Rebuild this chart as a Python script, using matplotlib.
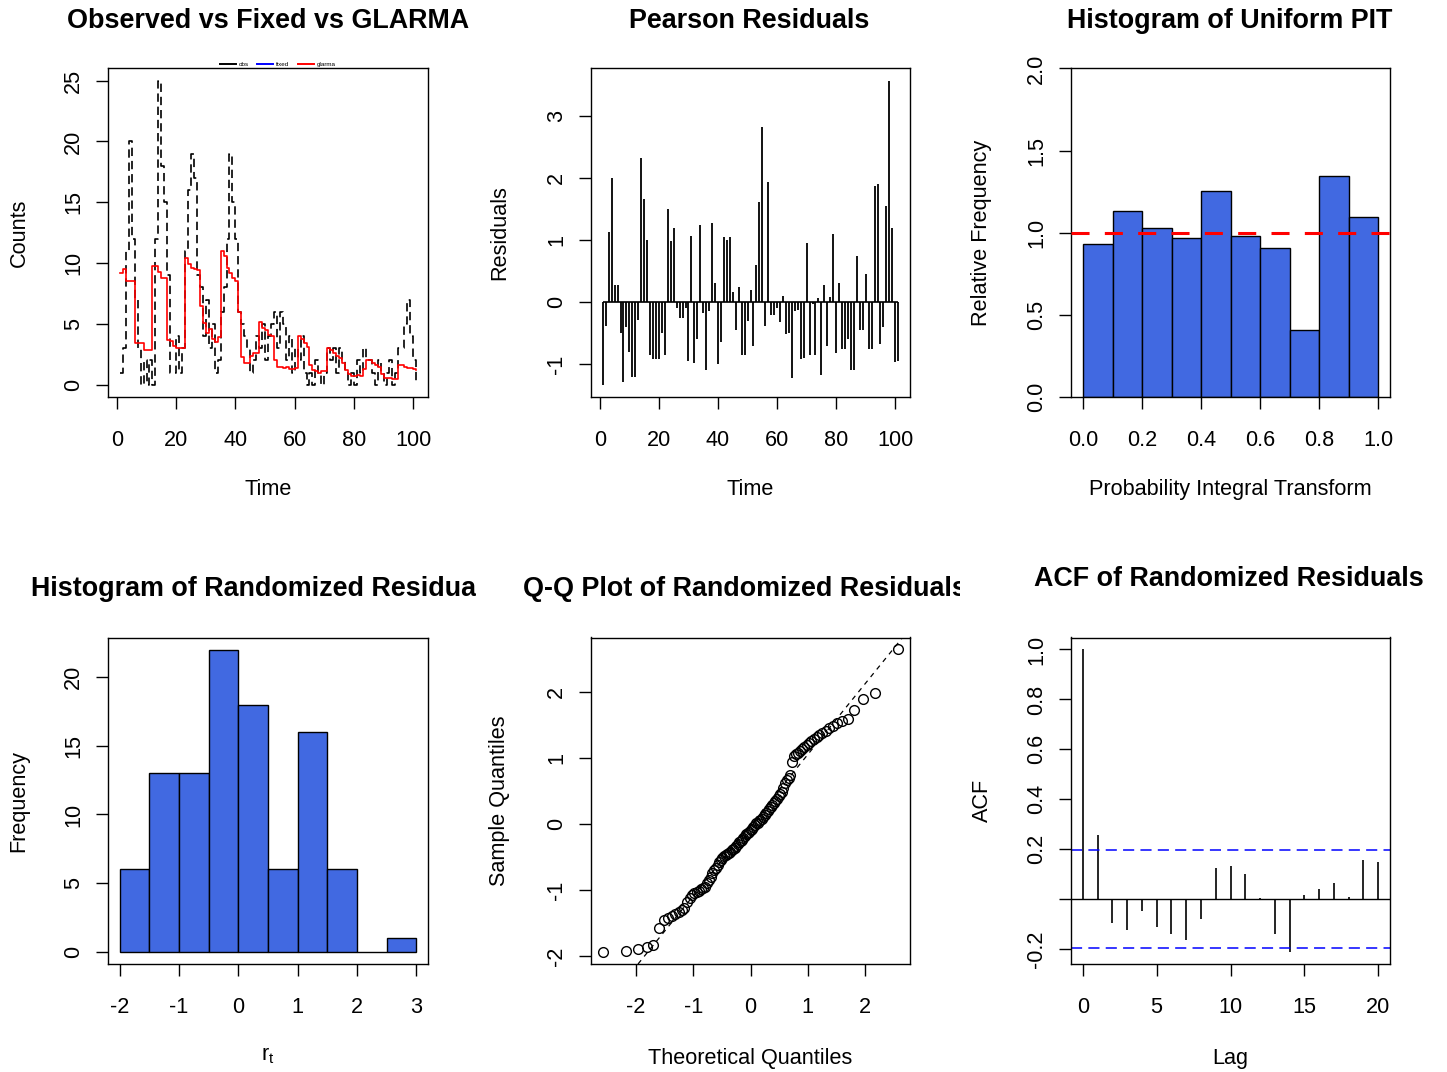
import numpy as np
import matplotlib
matplotlib.use('Agg')
import matplotlib.pyplot as plt
from matplotlib.lines import Line2D
from matplotlib.transforms import Bbox, TransformedBbox
from statistics import NormalDist

# ---------------- data ----------------
observed = [1, 3, 11, 20, 12, 7, 3, 0, 2, 0,
            2, 0, 12, 25, 18, 15, 9, 1, 1, 4,
            1, 3, 11, 16, 19, 17, 9, 8, 4, 7,
            3, 5, 1, 2, 6, 8, 12, 19, 15, 12,
            6, 5, 4, 3, 1, 2, 4, 3, 5, 2,
            4, 5, 6, 3, 6, 5, 2, 4, 1, 3,
            2, 4, 1, 0, 1, 0, 2, 1, 0, 1,
            3, 2, 3, 1, 3, 2, 1, 0, 1, 0,
            2, 1, 3, 2, 2, 1, 0, 2, 1, 0,
            1, 2, 0, 1, 3, 3, 5, 7, 4, 2, 0]

glarma_fit = [9.2, 9.5, 8.5, 8.5, 8.5, 3.4, 3.4, 3.4, 2.9, 2.9,
              2.9, 9.8, 9.8, 9.3, 8.8, 8.8, 3.7, 3.6, 3.2, 3.0,
              3.0, 3.0, 10.4, 9.9, 9.6, 9.5, 9.4, 6.5, 5.1, 4.3,
              4.6, 3.8, 3.5, 3.9, 11.0, 10.6, 9.6, 9.2, 8.8, 8.5,
              6.0, 2.3, 1.8, 1.8, 2.4, 2.6, 2.6, 5.2, 4.7, 4.5,
              4.1, 4.0, 2.0, 1.5, 1.5, 1.4, 1.5, 1.3, 1.3, 1.4,
              4.0, 3.8, 3.4, 3.1, 1.6, 1.2, 1.1, 1.0, 1.1, 1.1,
              3.0, 2.9, 2.6, 2.4, 2.2, 1.8, 1.2, 0.9, 0.7, 0.7,
              0.8, 0.7, 1.3, 2.0, 2.0, 1.8, 1.6, 1.5, 0.9, 0.6,
              0.6, 0.6, 0.5, 0.5, 1.6, 1.6, 1.5, 1.4, 1.4, 1.3, 1.2]

pearson_resid = [-1.33, -0.39, 1.14, 2.0, 0.28, 0.28, -0.5, -1.28, -0.4, -0.8,
                 -1.2, -1.2, -0.28, 2.33, 1.67, 1.0, -0.85, -0.92, -0.92, -0.92,
                 -0.5, -0.85, 1.5, 0.98, 1.2, -0.1, -0.25, -0.25, -0.1, -0.95,
                 1.07, -0.98, -0.6, 1.24, -0.17, -1.1, -0.15, 1.27, 0.31, -1.0,
                 -0.65, 1.05, 1.0, 1.05, 0.17, -0.45, 0.25, -0.85, -0.85, -0.3,
                 0.2, -0.71, 0.6, 1.61, 2.83, -0.38, 1.94, -0.2, -0.2, -0.1,
                 -0.32, 0.1, -0.51, -0.5, -1.23, -0.15, -0.13, -0.92, -0.9, 0.95,
                 -0.85, -0.03, -0.85, 0.07, -1.18, 0.28, -0.7, 0.08, 1.1, -0.82,
                 0.31, -0.75, -0.75, -0.6, -1.1, -1.1, 0.75, -0.45, -0.45, 0.45,
                 -0.75, -0.75, 1.87, 1.9, -0.68, -0.4, 1.55, 3.57, 1.2, -0.97,
                 -0.95]

pit_breaks = [0.0, 0.1, 0.2, 0.3, 0.4, 0.5, 0.6, 0.7, 0.8, 0.9, 1.0]
pit_density = [0.93, 1.13, 1.03, 0.965, 1.254, 0.98, 0.905, 0.41, 1.343, 1.094]

rand_resid = [-1.94, -1.93, -1.89, -1.87, -1.84, -1.58,
              -1.45, -1.42, -1.40, -1.37, -1.33, -1.30, -1.27, -1.18, -1.12, -1.08, -1.05, -1.03, -1.01,
              -0.99, -0.97, -0.95, -0.90, -0.85, -0.80, -0.74, -0.70, -0.66, -0.62, -0.58, -0.55, -0.52,
              -0.49, -0.47, -0.46, -0.44, -0.42, -0.40, -0.38, -0.36, -0.34, -0.31, -0.28, -0.26, -0.24,
              -0.22, -0.19, -0.16, -0.14, -0.12, -0.10, -0.08, -0.05, -0.02,
              0.01, 0.02, 0.04, 0.06, 0.08, 0.11, 0.14, 0.17, 0.20, 0.23, 0.26, 0.29, 0.32, 0.35, 0.38,
              0.42, 0.45, 0.48,
              0.55, 0.62, 0.66, 0.70, 0.74, 0.94,
              1.02, 1.05, 1.08, 1.10, 1.13, 1.16, 1.19, 1.22, 1.25, 1.28, 1.31, 1.35, 1.38, 1.41, 1.45, 1.48,
              1.52, 1.55, 1.58, 1.73, 1.89, 1.98,
              2.64]
hist_breaks = [-2.0, -1.5, -1.0, -0.5, 0.0, 0.5, 1.0, 1.5, 2.0, 2.5, 3.0]

acf_lags = list(range(21))
acf_values = [1.0, 0.255, -0.097, -0.122, -0.046, -0.113, -0.139, -0.163, -0.081, 0.124,
              0.133, 0.10, 0.003, -0.139, -0.212, 0.017, 0.042, 0.066, 0.009, 0.157, 0.149]

# ---------------- style ----------------
plt.rcParams['font.family'] = ['Liberation Sans', 'DejaVu Sans']
plt.rcParams['axes.unicode_minus'] = False
plt.rcParams['lines.scale_dashes'] = False

W, H, DPI = 1447, 1072, 100
fig = plt.figure(figsize=(W / DPI, H / DPI), dpi=DPI)

LAB = 15.6
TITLE = 19.4
TICK_PT = 12 * 72 / DPI
ROYAL = '#4169E1'


def px_axes(x0, y0, x1, y1):
    return fig.add_axes([x0 / W, 1 - y1 / H, (x1 - x0) / W, (y1 - y0) / H])


def style(ax, xlim, ylim, xticks, yticks, xlabels, ylabels):
    ax.set_xlim(xlim)
    ax.set_ylim(ylim)
    ax.set_xticks(xticks)
    ax.set_xticklabels(xlabels)
    ax.set_yticks(yticks)
    ax.set_yticklabels(ylabels)
    for s in ax.spines.values():
        s.set_linewidth(1.0)
    ax.tick_params(length=TICK_PT, width=1.0, labelsize=LAB, direction='out')
    ax.tick_params(axis='x', pad=15)
    ax.tick_params(axis='y', pad=8.6, labelrotation=90)
    for lb in ax.get_yticklabels():
        lb.set_va('center')


def labels(ax, xl, yl, box_h, x_off, y_off=89, box_w=320):
    ax.set_xlabel(xl, fontsize=LAB, va='baseline')
    ax.xaxis.set_label_coords(0.5, -x_off / box_h)
    ax.set_ylabel(yl, fontsize=LAB, va='center', ha='center')
    ax.yaxis.set_label_coords(-y_off / box_w, 0.5)


def title(s, cx, base_y, clip_x0, clip_x1):
    t = fig.text(cx / W, 1 - base_y / H, s, ha='center', va='baseline',
                 fontsize=TITLE, fontweight='bold')
    t.set_clip_box(TransformedBbox(Bbox([[clip_x0 / W, 0], [clip_x1 / W, 1]]), fig.transFigure))
    t.set_clip_on(True)


def fmt(v):
    return ('%g' % v)


TOP = (68.5, 397)
BOT = (637.5, 964)
COLS = [(108, 428), (591, 910), (1071, 1390)]

# ---------------- panel 1 ----------------
ax1 = px_axes(COLS[0][0], TOP[0], COLS[0][1], TOP[1])
t_obs = np.arange(1, len(observed) + 1)
t_fit = np.arange(1, len(glarma_fit) + 1)
ax1.step(t_obs, observed, where='post', color='black', lw=1.2, ls=(0, (6, 3.5)))
ax1.step(t_fit, glarma_fit, where='post', color='#FF0000', lw=1.2)
xt = [0, 20, 40, 60, 80, 100]
yt = [0, 5, 10, 15, 20, 25]
style(ax1, (-3, 105), (-1, 26), xt, yt, [fmt(v) for v in xt], [fmt(v) for v in yt])
labels(ax1, 'Time', 'Counts', TOP[1] - TOP[0], 98)
handles = [Line2D([], [], color='black', lw=1.4),
           Line2D([], [], color='#0000FF', lw=1.4),
           Line2D([], [], color='#FF0000', lw=1.4)]
leg = ax1.legend(handles, ['obs', 'fixed', 'glarma'], loc='center', bbox_to_anchor=(0.53, 1.012),
                 ncol=3, frameon=False, fontsize=4.5, handlelength=2.6, handletextpad=0.4,
                 columnspacing=1.4, borderpad=0)
title('Observed vs Fixed vs GLARMA', 268, 28, 0, W / 3)

# ---------------- panel 2 ----------------
ax2 = px_axes(COLS[1][0], TOP[0], COLS[1][1], TOP[1])
t_res = np.arange(1, len(pearson_resid) + 1)
ax2.vlines(t_res, 0, pearson_resid, color='black', lw=1.3)
ax2.hlines(0, t_res[0], t_res[-1], color='black', lw=1.2)
yt2 = [-1, 0, 1, 2, 3]
style(ax2, (-3, 105), (-1.53, 3.77), xt, yt2, [fmt(v) for v in xt], [fmt(v) for v in yt2])
labels(ax2, 'Time', 'Residuals', TOP[1] - TOP[0], 98, y_off=91, box_w=319)
title('Pearson Residuals', 749, 28, W / 3, 2 * W / 3)

# ---------------- panel 3 ----------------
ax3 = px_axes(COLS[2][0], TOP[0], COLS[2][1], TOP[1])
ax3.bar(pit_breaks[:-1], pit_density, width=np.diff(pit_breaks), align='edge',
        color=ROYAL, edgecolor='black', lw=1.0, zorder=2)
ax3.axhline(1.0, color='#FF0000', lw=2.2, ls=(0, (13, 11)), zorder=3)
xt3 = [0.0, 0.2, 0.4, 0.6, 0.8, 1.0]
yt3 = [0.0, 0.5, 1.0, 1.5, 2.0]
style(ax3, (-0.042, 1.04), (0, 2), xt3, yt3, ['%.1f' % v for v in xt3], ['%.1f' % v for v in yt3])
labels(ax3, 'Probability Integral Transform', 'Relative Frequency', TOP[1] - TOP[0], 98, box_w=319)
title('Histogram of Uniform PIT', 1229.5, 28, 2 * W / 3, W)

# ---------------- panel 4 ----------------
ax4 = px_axes(COLS[0][0], BOT[0], COLS[0][1], BOT[1])
ax4.hist(rand_resid, bins=hist_breaks, color=ROYAL, edgecolor='black', lw=1.0)
xt4 = [-2, -1, 0, 1, 2, 3]
yt4 = [0, 5, 10, 15, 20]
style(ax4, (-2.2, 3.2), (-0.88, 22.88), xt4, yt4, [fmt(v) for v in xt4], [fmt(v) for v in yt4])
labels(ax4, r'$\mathregular{r_t}$', 'Frequency', BOT[1] - BOT[0], 96)
title('Histogram of Randomized Residuals', 265, 596, 0, 476)

# ---------------- panel 5 ----------------
ax5 = px_axes(COLS[1][0], BOT[0], COLS[1][1], BOT[1])
n = len(rand_resid)
nd = NormalDist()
sample_q = np.sort(rand_resid)
theo_q = np.array([nd.inv_cdf((i + 0.5) / n) for i in range(n)])
ax5.plot(theo_q, sample_q, 'o', mfc='none', mec='black', ms=7, mew=1.0)
y25, y75 = np.percentile(sample_q, [25, 75])
x25, x75 = nd.inv_cdf(0.25), nd.inv_cdf(0.75)
ax5.axline((x25, y25), slope=(y75 - y25) / (x75 - x25), color='black', lw=0.9, ls=(0, (3.5, 3.5)))
xt5 = [-2, -1, 0, 1, 2]
yt5 = [-2, -1, 0, 1, 2]
style(ax5, (-2.79, 2.79), (-2.12, 2.82), xt5, yt5, [fmt(v) for v in xt5], [fmt(v) for v in yt5])
labels(ax5, 'Theoretical Quantiles', 'Sample Quantiles', BOT[1] - BOT[0], 100, y_off=91, box_w=319)
title('Q-Q Plot of Randomized Residuals', 745, 596, W / 3, 960)

# ---------------- panel 6 ----------------
ax6 = px_axes(COLS[2][0], BOT[0], COLS[2][1], BOT[1])
ci = 1.96 / np.sqrt(n)
ax6.vlines(acf_lags, 0, acf_values, color='black', lw=1.2)
ax6.axhline(0, color='black', lw=1.0)
ax6.axhline(ci, color='#0000FF', lw=1.1, ls=(0, (8, 4.5)))
ax6.axhline(-ci, color='#0000FF', lw=1.1, ls=(0, (8, 4.5)))
xt6 = [0, 5, 10, 15, 20]
yt6 = [-0.2, 0.0, 0.2, 0.4, 0.6, 0.8, 1.0]
yl6 = ['-0.2', '', '0.2', '0.4', '0.6', '0.8', '1.0']
style(ax6, (-0.8, 20.8), (-0.26, 1.048), xt6, yt6, [fmt(v) for v in xt6], yl6)
labels(ax6, 'Lag', 'ACF', BOT[1] - BOT[0], 100, box_w=319)
title('ACF of Randomized Residuals', 1229, 586, 2 * W / 3, W)

fig.savefig('out.png', dpi=DPI)
